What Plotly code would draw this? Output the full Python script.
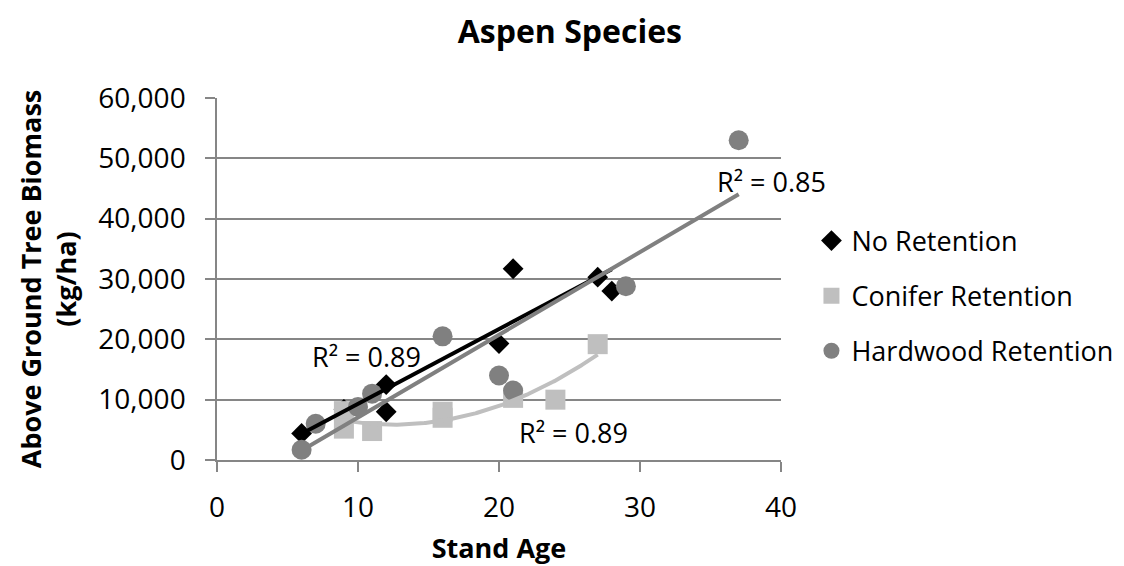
import numpy as np
import plotly.graph_objects as go

# ---- data ----
no_ret_age = [6, 9, 12, 12, 20, 21, 27, 28]
no_ret_bio = [4400, 8400, 12500, 8000, 19300, 31700, 30300, 28000]

con_ret_age = [9, 9, 11, 16, 16, 21, 24, 27]
con_ret_bio = [8100, 5200, 4800, 8000, 7000, 10300, 10000, 19200]

hw_ret_age = [6, 7, 10, 11, 16, 20, 21, 29, 37]
hw_ret_bio = [1700, 6000, 8800, 11000, 20500, 14000, 11500, 28800, 53000]

r2_labels = ["R² = 0.89", "R² = 0.89", "R² = 0.85"]

x_ticks = [0, 10, 20, 30, 40]
y_ticks = [0, 10000, 20000, 30000, 40000, 50000, 60000]

BLACK = "#000000"
LIGHT = "#BFBFBF"
MID = "#808080"
AXIS = "#868686"
FONT = "Open Sans"


def trend(x, y, deg):
    c = np.polyfit(x, y, deg)
    xs = np.linspace(min(x), max(x), 200)
    return xs, np.polyval(c, xs)


fig = go.Figure()

# markers
fig.add_trace(go.Scatter(x=no_ret_age, y=no_ret_bio, mode="markers", name="No Retention",
                         legendgroup="a",
                         marker=dict(symbol="diamond", size=16, color=BLACK)))
fig.add_trace(go.Scatter(x=con_ret_age, y=con_ret_bio, mode="markers", name="Conifer Retention",
                         legendgroup="b",
                         marker=dict(symbol="square", size=20, color=LIGHT)))
fig.add_trace(go.Scatter(x=hw_ret_age, y=hw_ret_bio, mode="markers", name="Hardwood Retention",
                         legendgroup="c",
                         marker=dict(symbol="circle", size=20, color=MID)))

# trendlines
for ages, bio, deg, col in [(no_ret_age, no_ret_bio, 1, BLACK),
                            (con_ret_age, con_ret_bio, 2, LIGHT),
                            (hw_ret_age, hw_ret_bio, 1, MID)]:
    xs, ys = trend(ages, bio, deg)
    fig.add_trace(go.Scatter(x=xs, y=ys, mode="lines", showlegend=False, hoverinfo="skip",
                             line=dict(color=col, width=4)))

# R² labels
label_pos = [(10.6, 17100), (25.3, 4500), (39.3, 46100)]
for (lx, ly), txt in zip(label_pos, r2_labels):
    fig.add_annotation(x=lx, y=ly, xref="x", yref="y", text=txt, showarrow=False,
                       xanchor="center", yanchor="middle",
                       font=dict(family=FONT, size=27, color="black"))

fig.update_layout(
    width=1124, height=566,
    margin=dict(l=217, r=343, t=98, b=106, autoexpand=False),
    paper_bgcolor="white", plot_bgcolor="white",
    font=dict(family=FONT, size=27, color="black"),
    title=dict(text="<b>Aspen Species</b>", x=0.507, xanchor="center",
               y=1 - 32 / 566, yanchor="middle", yref="container",
               font=dict(family=FONT, size=32, color="black")),
    legend=dict(x=1.054, y=0.453, xanchor="left", yanchor="middle",
                font=dict(family=FONT, size=27, color="black"),
                tracegroupgap=17, bgcolor="rgba(0,0,0,0)"),
    showlegend=True,
)

fig.update_xaxes(range=[0, 40], tickvals=x_ticks, showgrid=False, zeroline=False,
                 showline=True, linecolor=AXIS, linewidth=1.5,
                 ticks="outside", ticklen=10, tickcolor=AXIS, tickwidth=1.5,
                 ticklabelstandoff=12,
                 tickfont=dict(family=FONT, size=28, color="black"),
                 title=dict(text="<b>Stand Age</b>", standoff=18,
                            font=dict(family=FONT, size=27, color="black")))
fig.update_yaxes(range=[0, 60000], tickvals=y_ticks, tickformat=",d",
                 showgrid=True, gridcolor=AXIS, gridwidth=1.5, zeroline=False,
                 showline=True, linecolor=AXIS, linewidth=1.5,
                 ticks="outside", ticklen=10, tickcolor=AXIS, tickwidth=1.5,
                 ticklabelstandoff=14,
                 tickfont=dict(family=FONT, size=28, color="black"),
                 title=dict(text="<b>Above Ground Tree Biomass<br>(kg/ha)</b>", standoff=14,
                            font=dict(family=FONT, size=27, color="black")))

fig.write_html("out.html")
